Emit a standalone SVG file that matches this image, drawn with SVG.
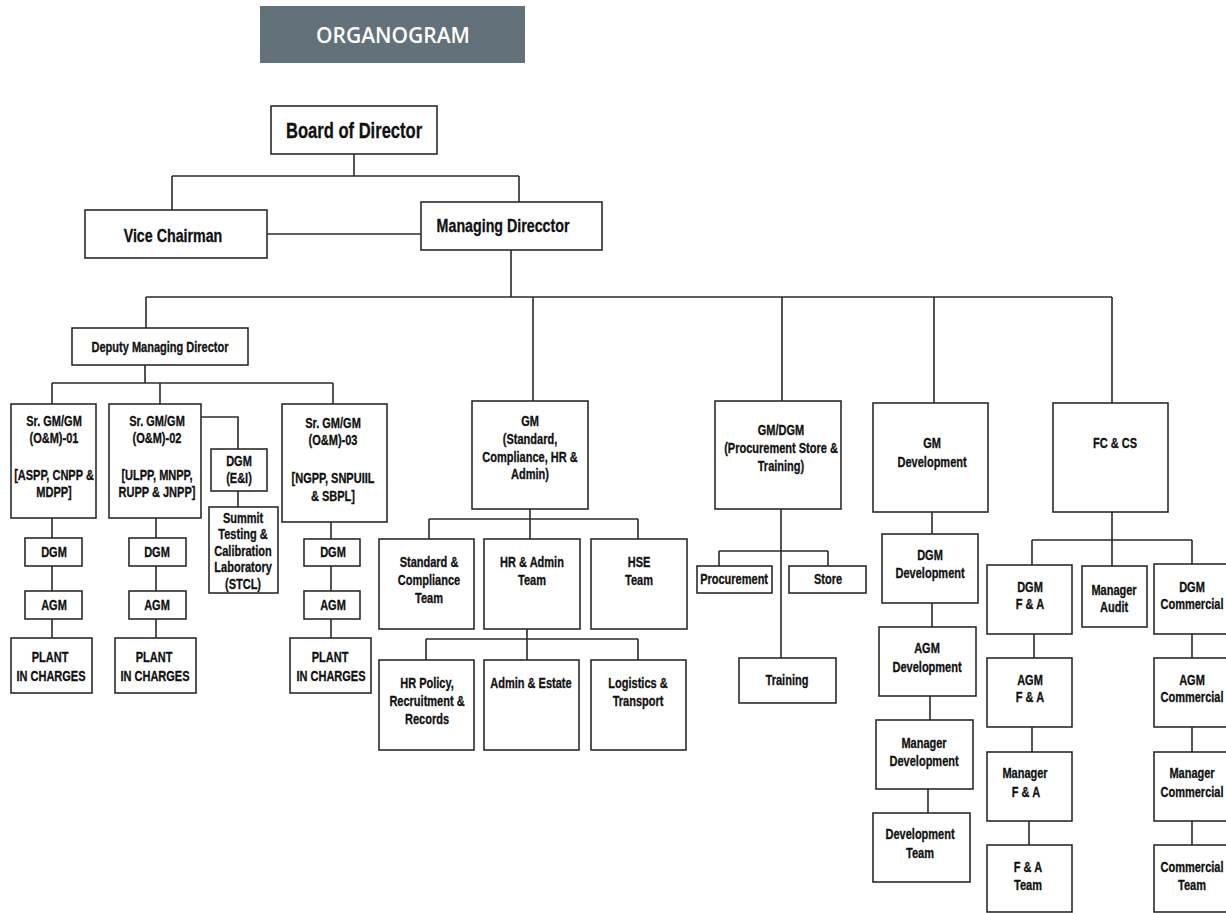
<svg xmlns="http://www.w3.org/2000/svg" width="1226" height="913" viewBox="0 0 1226 913">
<style>
  .b { fill: #ffffff; stroke: #2b2b2b; stroke-width: 1.6; }
  .c { fill: none; stroke: #2b2b2b; stroke-width: 1.6; }
  text { font-family: "Liberation Sans", Arial, sans-serif; font-weight: bold; fill: #111111; stroke: #111111; stroke-width: 0.3; text-anchor: middle; font-size: 14.3px; transform-box: fill-box; transform-origin: center; transform: scaleX(0.77); }
  .t14 { font-size: 14.3px; }
  .t18 { font-size: 18.5px; }
  .t21 { font-size: 21.5px; }
  .title { font-family: "Open Sans", "Liberation Sans", sans-serif; font-weight: 600; font-size: 21px; fill: #ffffff; stroke: none; transform: none; }
</style>
<rect width="1226" height="913" fill="#ffffff"/>
<g id="banner">
  <rect x="260" y="6" width="265" height="57" fill="#63717a"/>
  <text class="title" x="393" y="43">ORGANOGRAM</text>
</g>
<g id="connectors">
  <path class="c" d="M354,154 V176 M172,176 H519 M172,176 V210 M519,176 V202"/>
  <path class="c" d="M267,234 H421"/>
  <path class="c" d="M511,250 V297 M146,297 H1112 M146,297 V328 M533,297 V401 M782,297 V401 M934,297 V403 M1112,297 V403"/>
  <path class="c" d="M145,365 V383 M52,383 H333 M52,383 V404 M160,383 V404 M333,383 V404"/>
  <path class="c" d="M201,417 H238 V449 M238,491 V507"/>
  <path class="c" d="M52,518 V538 M52,566 V591 M52,619 V638"/>
  <path class="c" d="M156,518 V538 M156,566 V591 M156,619 V638"/>
  <path class="c" d="M331,522 V539 M331,566 V591 M331,619 V638"/>
  <path class="c" d="M530,509 V519 M429,519 H638 M429,519 V539 M530,519 V539 M638,519 V539"/>
  <path class="c" d="M527,629 V639 M426,639 H638 M426,639 V660 M527,639 V660 M638,639 V660"/>
  <path class="c" d="M781,509 V658 M719,551 H828 M719,551 V566 M828,551 V566"/>
  <path class="c" d="M932,512 V534 M932,603 V627 M930,696 V720 M928,789 V813"/>
  <path class="c" d="M1112,512 V540 M1032,540 H1192 M1032,540 V565 M1112,540 V566 M1192,540 V564"/>
  <path class="c" d="M1034,634 V658 M1032,727 V752 M1029,821 V845"/>
  <path class="c" d="M1192,634 V658 M1192,727 V752 M1192,821 V845"/>
</g>
<g id="board"><rect class="b" x="271" y="106" width="166" height="48"/><text class="t21" x="354" y="138">Board of Director</text></g>
<g id="vice-chairman"><rect class="b" x="85" y="210" width="182" height="48"/><text class="t18" x="173" y="242">Vice Chairman</text></g>
<g id="managing-director"><rect class="b" x="421" y="202" width="181" height="48"/><text class="t18" x="503" y="232">Managing Direcctor</text></g>
<g id="dmd"><rect class="b" x="72" y="328" width="176" height="37"/><text class="t14" x="160" y="352">Deputy Managing Director</text></g>
<g id="srgm01"><rect class="b" x="11" y="404" width="85" height="114"/>
  <text x="54" y="426">Sr. GM/GM</text><text x="54" y="443">(O&amp;M)-01</text><text x="54" y="480">[ASPP, CNPP &amp;</text><text x="54" y="497">MDPP]</text></g>
<g id="srgm02"><rect class="b" x="109" y="404" width="92" height="114"/>
  <text x="157" y="426">Sr. GM/GM</text><text x="157" y="443">(O&amp;M)-02</text><text x="157" y="480">[ULPP, MNPP,</text><text x="157" y="497">RUPP &amp; JNPP]</text></g>
<g id="dgm-ei"><rect class="b" x="211" y="449" width="56" height="42"/>
  <text x="239" y="466">DGM</text><text x="239" y="483">(E&amp;I)</text></g>
<g id="stcl"><rect class="b" x="209" y="507" width="69" height="86"/>
  <text x="243" y="523">Summit</text><text x="243" y="539">Testing &amp;</text><text x="243" y="556">Calibration</text><text x="243" y="572">Laboratory</text><text x="243" y="589">(STCL)</text></g>
<g id="srgm03"><rect class="b" x="282" y="404" width="105" height="118"/>
  <text x="333" y="428">Sr. GM/GM</text><text x="333" y="445">(O&amp;M)-03</text><text x="333" y="483">[NGPP, SNPUIIL</text><text x="333" y="501">&amp; SBPL]</text></g>
<g id="dgm1"><rect class="b" x="25" y="538" width="57" height="28"/><text x="54" y="557">DGM</text></g>
<g id="agm1"><rect class="b" x="25" y="591" width="57" height="28"/><text x="54" y="610">AGM</text></g>
<g id="plant1"><rect class="b" x="11" y="638" width="81" height="55"/><text x="50" y="662">PLANT</text><text x="51" y="681">IN CHARGES</text></g>
<g id="dgm2"><rect class="b" x="129" y="538" width="57" height="28"/><text x="157" y="557">DGM</text></g>
<g id="agm2"><rect class="b" x="129" y="591" width="57" height="28"/><text x="157" y="610">AGM</text></g>
<g id="plant2"><rect class="b" x="115" y="638" width="81" height="55"/><text x="154" y="662">PLANT</text><text x="155" y="681">IN CHARGES</text></g>
<g id="dgm3"><rect class="b" x="304" y="539" width="56" height="27"/><text x="333" y="557">DGM</text></g>
<g id="agm3"><rect class="b" x="304" y="591" width="56" height="28"/><text x="333" y="610">AGM</text></g>
<g id="plant3"><rect class="b" x="290" y="638" width="81" height="55"/><text x="330" y="662">PLANT</text><text x="331" y="681">IN CHARGES</text></g>
<g id="gm-std"><rect class="b" x="472" y="401" width="116" height="108"/>
  <text x="530" y="426">GM</text><text x="530" y="444">(Standard,</text><text x="530" y="462">Compliance, HR &amp;</text><text x="530" y="479">Admin)</text></g>
<g id="std-team"><rect class="b" x="379" y="539" width="95" height="90"/>
  <text x="429" y="567">Standard &amp;</text><text x="429" y="585">Compliance</text><text x="429" y="603">Team</text></g>
<g id="hr-team"><rect class="b" x="484" y="539" width="96" height="90"/>
  <text x="532" y="567">HR &amp; Admin</text><text x="532" y="585">Team</text></g>
<g id="hse-team"><rect class="b" x="591" y="539" width="96" height="90"/>
  <text x="639" y="567">HSE</text><text x="639" y="585">Team</text></g>
<g id="hr-policy"><rect class="b" x="379" y="660" width="95" height="90"/>
  <text x="427" y="688">HR Policy,</text><text x="427" y="706">Recruitment &amp;</text><text x="427" y="724">Records</text></g>
<g id="admin-estate"><rect class="b" x="484" y="660" width="95" height="90"/>
  <text x="531" y="688">Admin &amp; Estate</text></g>
<g id="logistics"><rect class="b" x="591" y="660" width="95" height="90"/>
  <text x="638" y="688">Logistics &amp;</text><text x="638" y="706">Transport</text></g>
<g id="gm-proc"><rect class="b" x="715" y="401" width="126" height="108"/>
  <text x="781" y="435">GM/DGM</text><text x="781" y="453">(Procurement Store &amp;</text><text x="781" y="471">Training)</text></g>
<g id="procurement"><rect class="b" x="697" y="566" width="75" height="27"/><text x="734" y="584">Procurement</text></g>
<g id="store"><rect class="b" x="789" y="566" width="77" height="27"/><text x="828" y="584">Store</text></g>
<g id="training"><rect class="b" x="739" y="658" width="97" height="45"/><text x="787" y="685">Training</text></g>
<g id="gm-dev"><rect class="b" x="873" y="403" width="115" height="109"/>
  <text x="932" y="448">GM</text><text x="932" y="467">Development</text></g>
<g id="dgm-dev"><rect class="b" x="882" y="534" width="96" height="69"/>
  <text x="930" y="560">DGM</text><text x="930" y="578">Development</text></g>
<g id="agm-dev"><rect class="b" x="879" y="627" width="97" height="69"/>
  <text x="927" y="653">AGM</text><text x="927" y="672">Development</text></g>
<g id="mgr-dev"><rect class="b" x="876" y="720" width="97" height="69"/>
  <text x="924" y="748">Manager</text><text x="924" y="766">Development</text></g>
<g id="dev-team"><rect class="b" x="873" y="813" width="97" height="69"/>
  <text x="920" y="839">Development</text><text x="920" y="858">Team</text></g>
<g id="fccs"><rect class="b" x="1053" y="403" width="115" height="109"/>
  <text x="1115" y="448">FC &amp; CS</text></g>
<g id="dgm-fa"><rect class="b" x="987" y="565" width="85" height="69"/>
  <text x="1030" y="592">DGM</text><text x="1030" y="609">F &amp; A</text></g>
<g id="mgr-audit"><rect class="b" x="1082" y="566" width="65" height="61"/>
  <text x="1114" y="595">Manager</text><text x="1114" y="612">Audit</text></g>
<g id="dgm-com"><rect class="b" x="1154" y="564" width="80" height="70"/>
  <text x="1192" y="592">DGM</text><text x="1192" y="609">Commercial</text></g>
<g id="agm-fa"><rect class="b" x="987" y="658" width="85" height="69"/>
  <text x="1030" y="685">AGM</text><text x="1030" y="702">F &amp; A</text></g>
<g id="mgr-fa"><rect class="b" x="987" y="752" width="85" height="69"/>
  <text x="1025" y="778">Manager</text><text x="1026" y="797">F &amp; A</text></g>
<g id="fa-team"><rect class="b" x="987" y="845" width="85" height="67"/>
  <text x="1028" y="872">F &amp; A</text><text x="1028" y="890">Team</text></g>
<g id="agm-com"><rect class="b" x="1154" y="658" width="80" height="69"/>
  <text x="1192" y="685">AGM</text><text x="1192" y="702">Commercial</text></g>
<g id="mgr-com"><rect class="b" x="1154" y="752" width="80" height="69"/>
  <text x="1192" y="778">Manager</text><text x="1192" y="797">Commercial</text></g>
<g id="com-team"><rect class="b" x="1154" y="845" width="80" height="67"/>
  <text x="1192" y="872">Commercial</text><text x="1192" y="890">Team</text></g>
</svg>
